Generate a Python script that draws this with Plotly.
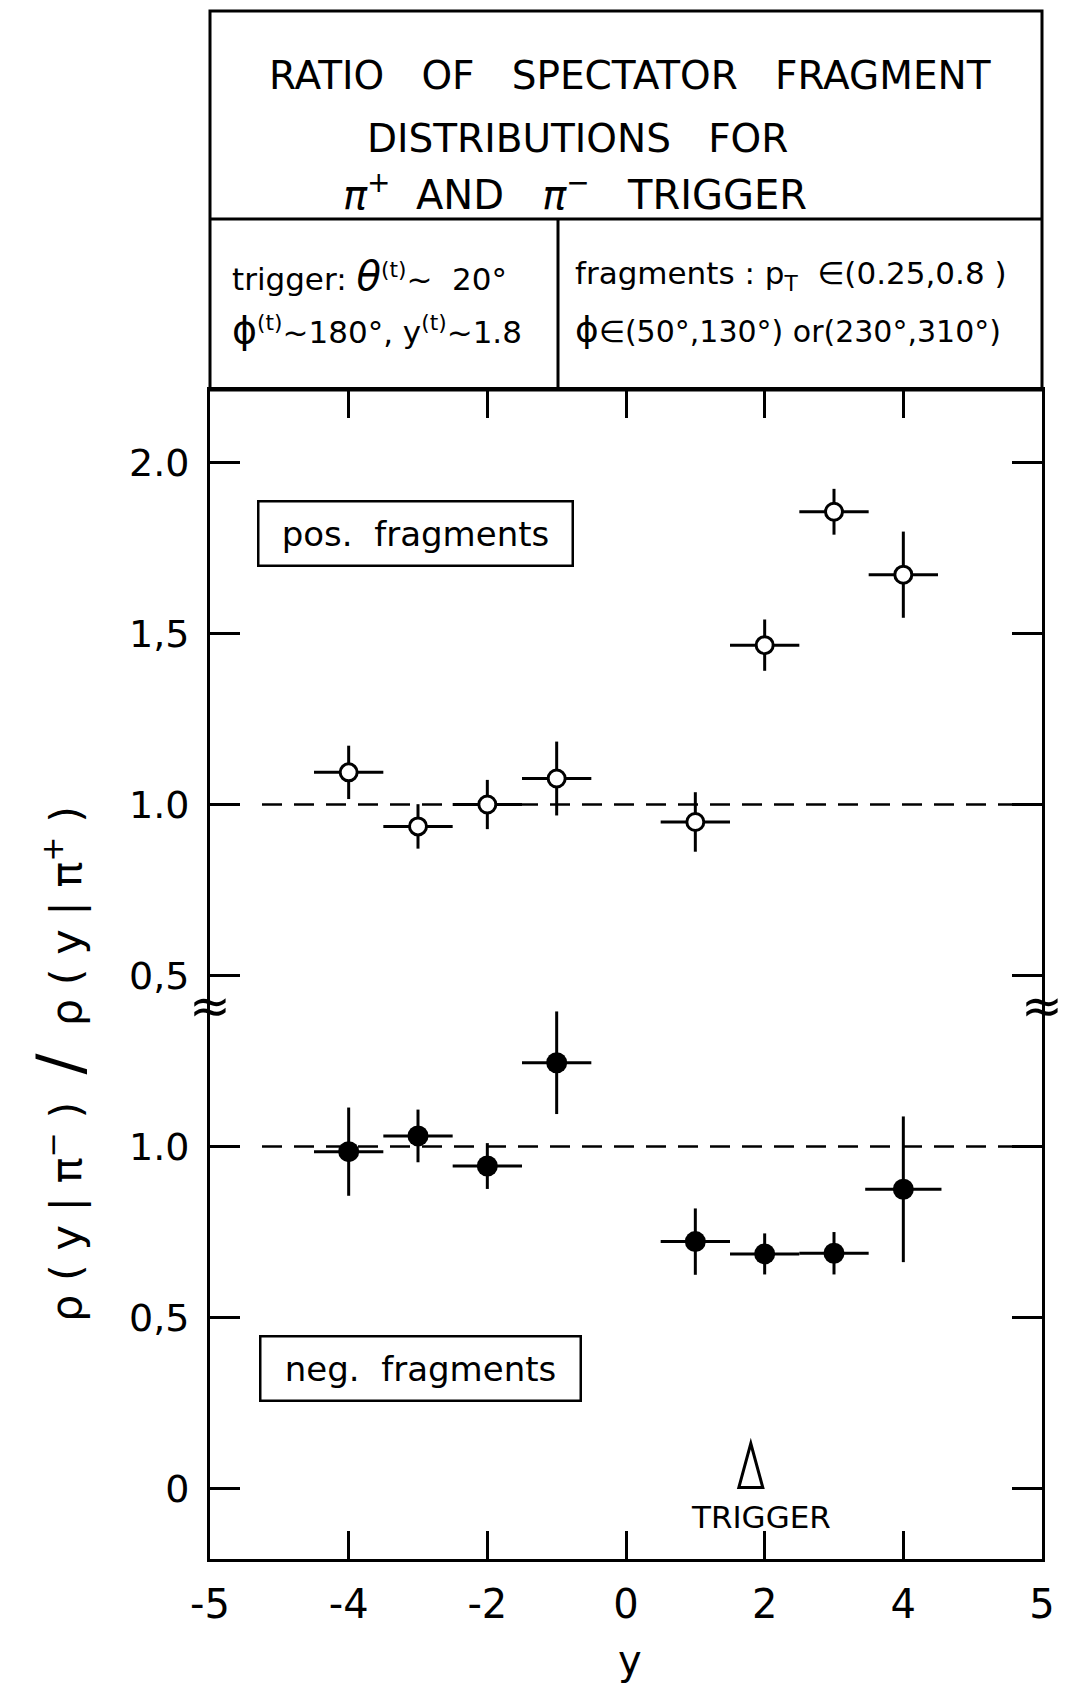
import plotly.graph_objects as go

# ---------------- data ----------------
X_BINS = [-4, -3, -2, -1, 1, 2, 3, 4]

POS_RATIO = [1.094, 0.936, 1.000, 1.076, 0.949, 1.466, 1.856, 1.672]
POS_YERR = [0.078, 0.065, 0.072, 0.108, 0.087, 0.075, 0.067, 0.126]
POS_XERR = [0.5, 0.5, 0.5, 0.5, 0.5, 0.5, 0.5, 0.5]

NEG_RATIO = [0.985, 1.031, 0.943, 1.245, 0.722, 0.686, 0.688, 0.875]
NEG_YERR = [0.129, 0.077, 0.067, 0.150, 0.097, 0.060, 0.062, 0.213]
NEG_XERR = [0.5, 0.5, 0.5, 0.5, 0.5, 0.5, 0.5, 0.55]

REF_LINE_X = [-5.25, 6.0]
REF_LINE_Y = [1.0, 1.0]

X_TICKVALS = [-6, -4, -2, 0, 2, 4, 6]
X_TICKTEXT = ["-5", "-4", "-2", "0", "2", "4", "5"]

NEG_TICKVALS = [0.0, 0.5, 1.0]
NEG_TICKTEXT = ["0", "0,5", "1.0"]
POS_TICKVALS = [0.5, 1.0, 1.5, 2.0]
POS_TICKTEXT = ["0,5", "1.0", "1,5", "2.0"]

TRIGGER_Y = 1.8
BREAK_AT = 1.41

# ---------------- layout geometry (pixels) ----------------
W, H = 1070, 1690
L, R, T, B = 210, 1042, 390, 1559


def px(x):
    return (x - L) / (R - L)


def py(y):
    return (B - y) / (B - T)


FONT = "DejaVu Sans"
BLACK = "#000000"

fig = go.Figure()

# dashed reference lines at ratio = 1
fig.add_trace(go.Scatter(x=REF_LINE_X, y=REF_LINE_Y, mode="lines", yaxis="y",
                         line=dict(color=BLACK, width=2.5, dash="20px,12px"),
                         showlegend=False, hoverinfo="skip"))
fig.add_trace(go.Scatter(x=REF_LINE_X, y=REF_LINE_Y, mode="lines", yaxis="y2",
                         line=dict(color=BLACK, width=2.5, dash="20px,12px"),
                         showlegend=False, hoverinfo="skip"))

# negative fragments (filled)
fig.add_trace(go.Scatter(
    x=X_BINS, y=NEG_RATIO, mode="markers", yaxis="y",
    marker=dict(symbol="circle", size=21, color=BLACK),
    error_y=dict(type="data", array=NEG_YERR, color=BLACK, thickness=3, width=0),
    error_x=dict(type="data", array=NEG_XERR, color=BLACK, thickness=3, width=0),
    name="neg. fragments", showlegend=False))

# positive fragments (open)
fig.add_trace(go.Scatter(
    x=X_BINS, y=POS_RATIO, mode="markers", yaxis="y2",
    marker=dict(symbol="circle", size=17, color="white",
                line=dict(color=BLACK, width=3)),
    error_y=dict(type="data", array=POS_YERR, color=BLACK, thickness=3, width=0),
    error_x=dict(type="data", array=POS_XERR, color=BLACK, thickness=3, width=0),
    name="pos. fragments", showlegend=False))

axis_common = dict(showgrid=False, zeroline=False, showline=True, linecolor=BLACK,
                   linewidth=3, ticks="inside", tickcolor=BLACK, tickwidth=2.5,
                   mirror="ticks")

fig.update_layout(
    width=W, height=H, autosize=False,
    margin=dict(l=L, r=W - R, t=T, b=H - B, pad=0),
    paper_bgcolor="white", plot_bgcolor="white",
    font=dict(family=FONT, color=BLACK),
    xaxis=dict(range=[-6, 6], tickvals=X_TICKVALS, ticktext=X_TICKTEXT,
               ticklen=28, tickfont=dict(size=40, family=FONT),
               ticklabelstandoff=8, **axis_common),
    yaxis=dict(range=[-0.206, 3.212], tickvals=NEG_TICKVALS, ticktext=NEG_TICKTEXT,
               ticklen=30, tickfont=dict(size=38, family=FONT),
               ticklabelstandoff=10, **axis_common),
    yaxis2=dict(range=[-1.206, 2.212], tickvals=POS_TICKVALS, ticktext=POS_TICKTEXT,
                overlaying="y", side="left",
                ticklen=30, tickfont=dict(size=38, family=FONT),
                ticklabelstandoff=10, **axis_common),
)

shapes = []
# header boxes
shapes.append(dict(type="rect", xref="paper", yref="paper",
                   x0=px(L), x1=px(R), y0=py(390), y1=py(11),
                   line=dict(color=BLACK, width=3)))
shapes.append(dict(type="line", xref="paper", yref="paper",
                   x0=px(L), x1=px(R), y0=py(219), y1=py(219),
                   line=dict(color=BLACK, width=3)))
shapes.append(dict(type="line", xref="paper", yref="paper",
                   x0=px(558), x1=px(558), y0=py(219), y1=py(390),
                   line=dict(color=BLACK, width=3)))
# trigger marker (narrow open triangle)
shapes.append(dict(type="path", xref="x", yref="y", xsizemode="pixel", ysizemode="pixel",
                   xanchor=TRIGGER_Y, yanchor=0.0,
                   path="M -12,1 L 0,45 L 12,1 Z",
                   line=dict(color=BLACK, width=3), fillcolor="rgba(0,0,0,0)"))
fig.update_layout(shapes=shapes)

NB = "\u00a0"
ann = []


def add_text(text, x, y, size, xanchor="center", yanchor="middle", **kw):
    ann.append(dict(text=text, xref="paper", yref="paper", x=px(x), y=py(y),
                    xanchor=xanchor, yanchor=yanchor, showarrow=False,
                    font=dict(size=size, family=FONT, color=BLACK), **kw))


# title block
add_text("RATIO" + NB * 3 + "OF" + NB * 3 + "SPECTATOR" + NB * 3 + "FRAGMENT", 630, 75, 39)
add_text("DISTRIBUTIONS" + NB * 3 + "FOR", 577, 138, 39)
add_text("<i>π</i><sup>+</sup>" + NB * 2 + "AND" + NB * 3 + "<i>π</i><sup>−</sup>" + NB * 3
         + "TRIGGER", 575, 192, 40)

# condition boxes
add_text("trigger:" + NB + "<span style='font-size:40px'><i>θ</i></span><sup>(t)</sup>~"
         + NB * 2 + "20°", 230, 276, 31, xanchor="left")
add_text("<span style='font-size:38px'>ϕ</span><sup>(t)</sup>~180°," + NB
         + "y<sup>(t)</sup>~1.8", 230, 330, 31, xanchor="left")
add_text("fragments" + NB + ":" + NB + "p<sub>T</sub>" + NB * 2 + "∈(0.25,0.8" + NB + ")",
         573, 276, 31, xanchor="left")
add_text("<span style='font-size:36px'>ϕ</span>∈(50°,130°)" + NB + "or(230°,310°)",
         573, 330, 30, xanchor="left")

# panel labels
add_text("pos." + NB * 2 + "fragments", 415, 533, 34,
         bordercolor=BLACK, borderwidth=2.5, borderpad=0, width=312, height=62)
add_text("neg." + NB * 2 + "fragments", 420, 1368, 34,
         bordercolor=BLACK, borderwidth=2.5, borderpad=0, width=318, height=62)

# trigger label
add_text("TRIGGER", 761, 1517, 31)

# axis titles
add_text("ρ" + NB + "(" + NB + "y" + NB + "|" + NB + "π<sup>−</sup>" + NB + ")" + NB * 2
         + "<span style='font-size:62px'>/</span>" + NB * 2
         + "ρ" + NB + "(" + NB + "y" + NB + "|" + NB + "π<sup>+</sup>" + NB + ")",
         59, 1064, 43, textangle=-90)
add_text("y", 630, 1660, 40)

# axis break marks
for xb in (0.0, 1.0):
    ann.append(dict(text="≈", xref="paper", yref="y", x=xb, y=BREAK_AT,
                    xanchor="center", yanchor="middle", showarrow=False,
                    font=dict(size=50, family=FONT, color=BLACK)))

fig.update_layout(annotations=ann)

fig.write_html("out.html")
